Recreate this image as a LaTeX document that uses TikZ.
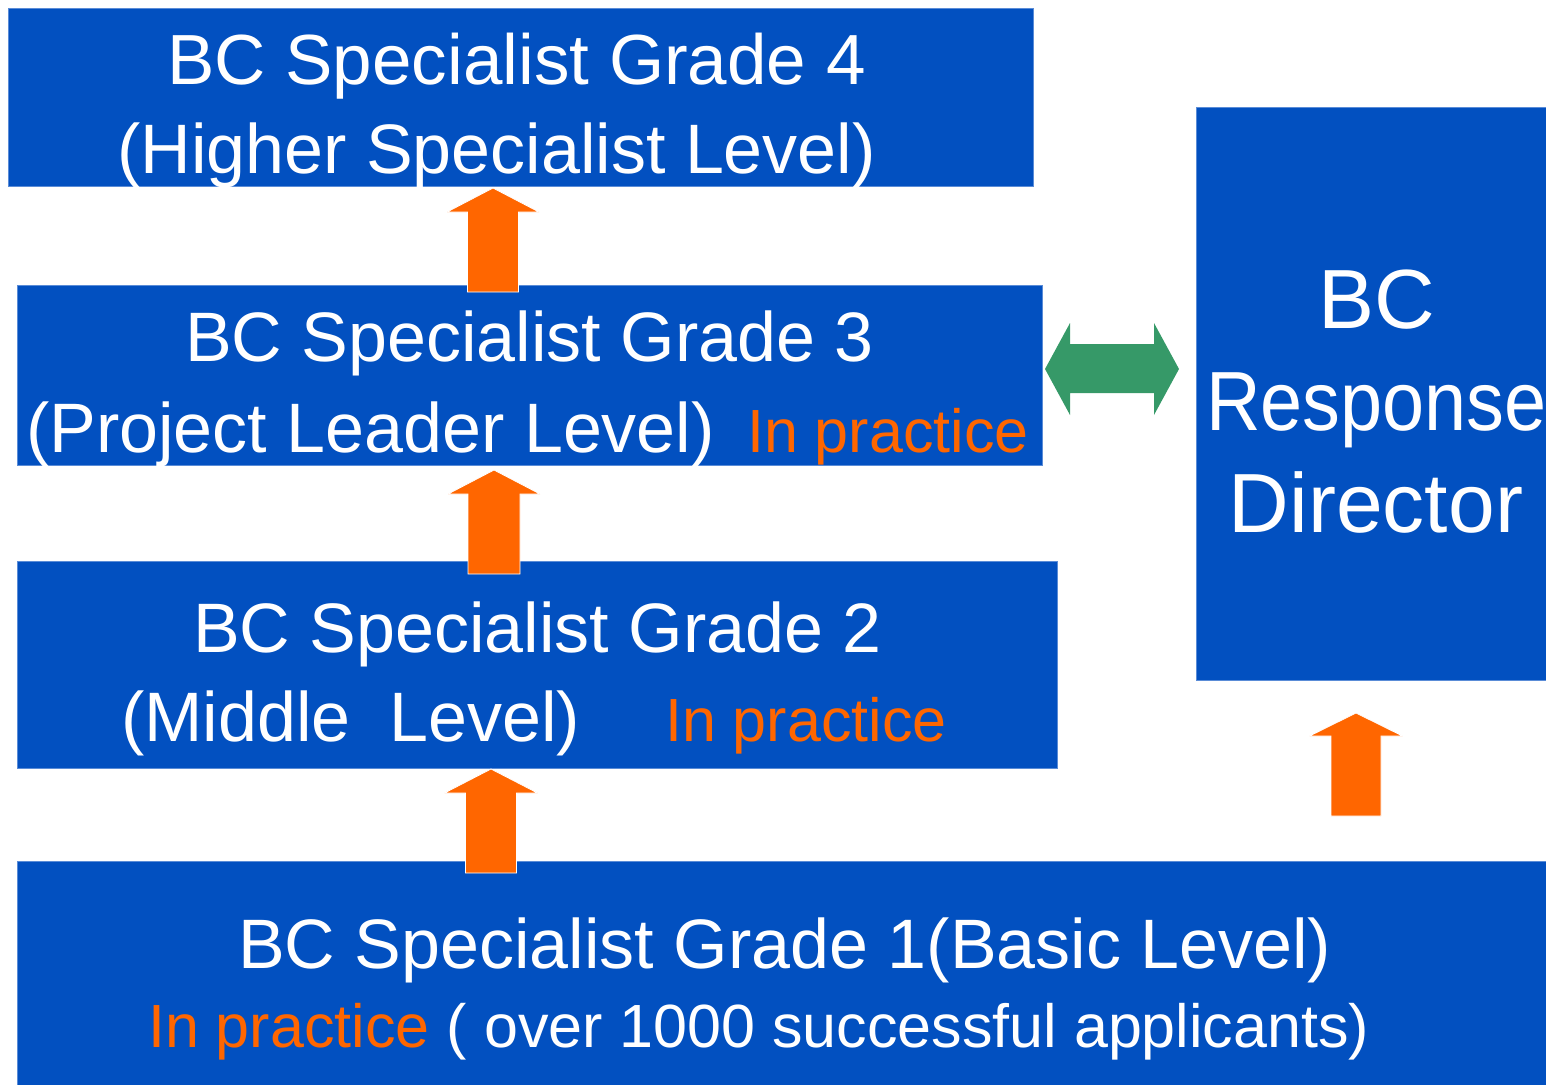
\documentclass[tikz,border=0pt]{standalone}
\usepackage{fontspec}
\usepackage{graphicx}
\setmainfont{Liberation Sans}
\definecolor{boxblue}{RGB}{2,80,192}
\definecolor{edgeblue}{RGB}{90,140,215}
\definecolor{arrorange}{RGB}{255,102,0}
\definecolor{arrgreen}{RGB}{54,153,104}
\tikzset{
  gradebox/.style={fill=boxblue, draw=edgeblue, line width=0.8pt},
  bigtxt/.style={inner sep=0pt, anchor=base west, text=white, font=\fontsize{70}{84}\selectfont},
  midtxt/.style={inner sep=0pt, anchor=base west, text=white, font=\fontsize{61}{73}\selectfont},
  practxt/.style={inner sep=0pt, anchor=base west, text=arrorange, font=\fontsize{61}{73}\selectfont},
  dirtxt/.style={inner sep=0pt, anchor=base, text=white, font=\fontsize{84}{100}\selectfont},
  uparrow/.style={fill=arrorange, draw=white, line width=0.8pt, line join=miter},
  dblarrow/.style={fill=arrgreen, draw=none}
}
\newcommand\blockup[6]{% tipx, tipy, head base y, half head, half shaft, bottom y
  \path[uparrow] (#1,#2) -- (#1+#4,#3) -- (#1+#5,#3) -- (#1+#5,#6) -- (#1-#5,#6) -- (#1-#5,#3) -- (#1-#4,#3) -- cycle;}
\begin{document}
\begin{tikzpicture}[x=1pt,y=-1pt]
\useasboundingbox (0,0) rectangle (1546,1084);
\clip (0,0) rectangle (1546,1084);
% boxes
\path[gradebox] (8,8) rectangle (1033,186);
\node[inner sep=0pt] (g4) at (520.5,97) {};
\path[gradebox] (17,285) rectangle (1042,465);
\node[inner sep=0pt] (g3) at (529.5,375) {};
\path[gradebox] (17,561) rectangle (1057,768);
\node[inner sep=0pt] (g2) at (537,664.5) {};
\path[gradebox] (17,861) rectangle (1560,1100);
\node[inner sep=0pt] (g1) at (781,972) {};
\path[gradebox] (1196,107) rectangle (1560,680);
\node[inner sep=0pt] (dir) at (1378,393) {};
% texts
\node[bigtxt, font=\fontsize{71}{85}\selectfont] (t4a) at (167,84) {BC Specialist Grade 4};
\node[bigtxt] (t4b) at (117,173) {(Higher Specialist Level)};
\node[bigtxt] (t3a) at (185,361) {BC Specialist Grade 3};
\node[bigtxt] (t3b) at (26,452) {(Project Leader Level)};
\node[practxt] (p3) at (747,452) {In practice};
\node[bigtxt] (t2a) at (193,652) {BC Specialist Grade 2};
\node[bigtxt] (t2b) at (121,741) {(Middle\ \ Level)};
\node[practxt] (p2) at (665,741) {In practice};
\node[bigtxt] (t1a) at (238,968) {BC Specialist Grade 1(Basic Level)};
\node[practxt] (p1) at (148,1047) {In practice};
\node[midtxt, anchor=base west] (t1b) at (p1.base east) {\ ( over 1000 successful applicants)};
\node[dirtxt] (d1) at (1377,328) {BC};
\node[dirtxt, anchor=base west] (d2) at (1206,430) {\scalebox{0.9}[1]{Response}};
\node[dirtxt] (d3) at (1376,532) {Director};
% orange up arrows
\blockup{493}{188}{212}{46}{25.5}{292}
\blockup{494}{470}{494}{46}{26}{574}
\blockup{491}{769}{793}{46.5}{25.5}{873}
\blockup{1356}{713}{736}{46.5}{25}{816}
% green double arrow
\coordinate (gl) at (1045,369);
\coordinate (gr) at (1179,369);
\path[dblarrow] (gl) -- (1070,323) -- (1070,344) -- (1154,344) -- (1154,323) -- (gr)
  -- (1154,415) -- (1154,393) -- (1070,393) -- (1070,415) -- cycle;
\end{tikzpicture}
\end{document}
